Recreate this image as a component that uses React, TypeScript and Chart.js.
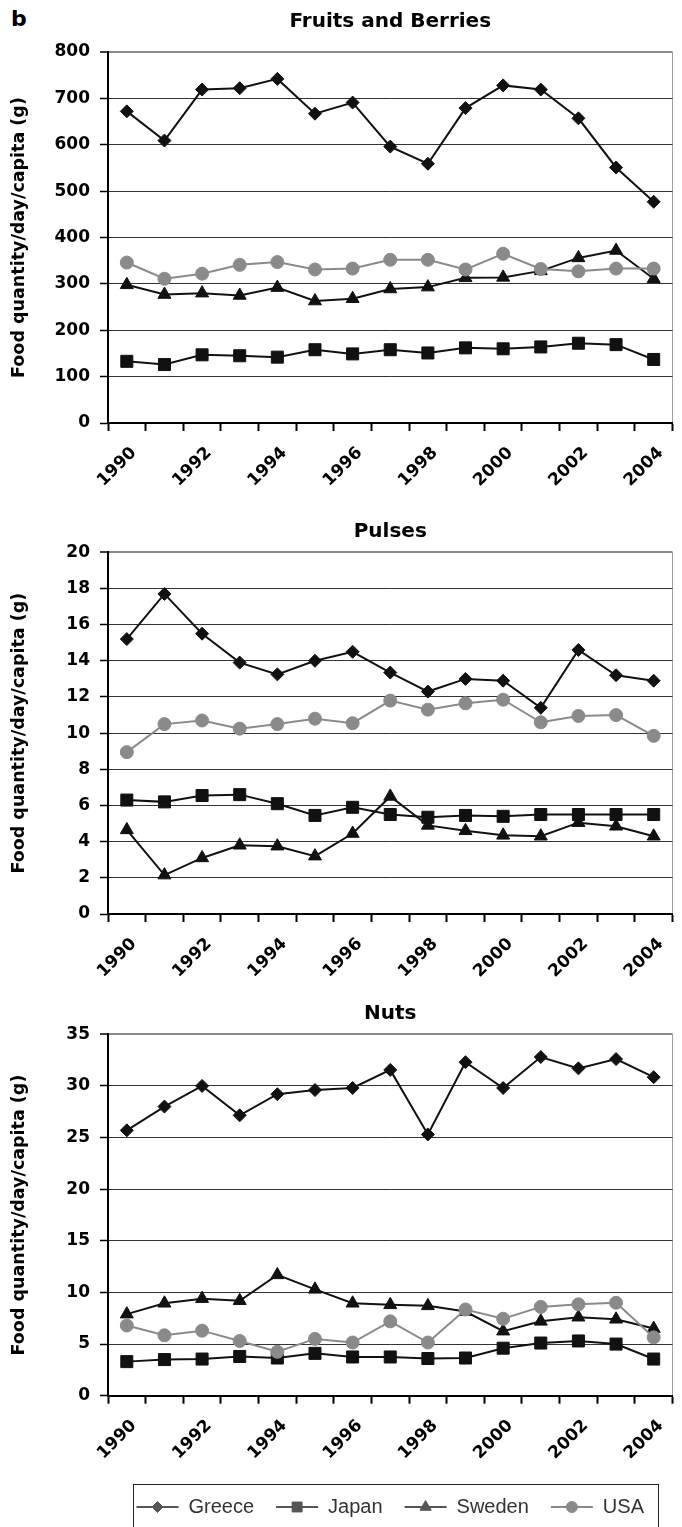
import React, { useEffect, useRef } from 'react';
import { Chart, registerables } from 'chart.js';
import { drawPoint } from 'chart.js/helpers';

Chart.register(...registerables);

// ---------- data ----------
const years = ['1990', '1991', '1992', '1993', '1994', '1995', '1996', '1997', '1998', '1999', '2000', '2001', '2002', '2003', '2004'];
const countries = ['Greece', 'Japan', 'Sweden', 'USA'];
const yAxisTitle = 'Food quantity/day/capita (g)';

const fruitsGreece = [672, 609, 719, 722, 742, 667, 691, 596, 559, 679, 728, 719, 657, 551, 477];
const fruitsJapan = [133, 126, 147, 145, 142, 158, 149, 158, 151, 162, 160, 164, 172, 169, 137];
const fruitsSweden = [298, 277, 280, 275, 292, 263, 268, 289, 293, 313, 314, 328, 356, 372, 311];
const fruitsUSA = [346, 311, 322, 341, 347, 331, 333, 352, 352, 331, 365, 332, 327, 333, 333];

const pulsesGreece = [15.2, 17.7, 15.5, 13.9, 13.25, 14.0, 14.5, 13.35, 12.3, 13.0, 12.9, 11.4, 14.6, 13.2, 12.9];
const pulsesJapan = [6.3, 6.2, 6.55, 6.6, 6.1, 5.45, 5.9, 5.5, 5.35, 5.45, 5.4, 5.5, 5.5, 5.5, 5.5];
const pulsesSweden = [4.65, 2.15, 3.1, 3.8, 3.75, 3.2, 4.45, 6.5, 4.9, 4.6, 4.35, 4.3, 5.05, 4.85, 4.3];
const pulsesUSA = [8.95, 10.5, 10.7, 10.25, 10.5, 10.8, 10.55, 11.8, 11.3, 11.65, 11.85, 10.6, 10.95, 11.0, 9.85];

const nutsGreece = [25.7, 28.0, 30.0, 27.15, 29.2, 29.6, 29.8, 31.55, 25.3, 32.3, 29.8, 32.8, 31.7, 32.6, 30.85];
const nutsJapan = [3.3, 3.5, 3.55, 3.8, 3.65, 4.1, 3.75, 3.75, 3.6, 3.65, 4.6, 5.1, 5.3, 5.0, 3.55];
const nutsSweden = [7.9, 8.95, 9.4, 9.2, 11.7, 10.3, 8.95, 8.8, 8.7, 8.15, 6.25, 7.2, 7.6, 7.4, 6.5];
const nutsUSA = [6.8, 5.85, 6.3, 5.3, 4.25, 5.5, 5.15, 7.2, 5.15, 8.35, 7.45, 8.6, 8.85, 9.0, 5.65];

// ---------- styles ----------
const FF = "'DejaVu Sans', sans-serif";
const LEGEND_FF = "'Liberation Sans', Arial, sans-serif";
const seriesStyles = [
  { color: '#111111', legendColor: '#555555', pointStyle: 'rectRot', radius: 6.5, legendRadius: 5.5, order: 3 },
  { color: '#111111', legendColor: '#555555', pointStyle: 'rect', radius: 8.5, legendRadius: 7, order: 2 },
  { color: '#111111', legendColor: '#555555', pointStyle: 'triangle', radius: 7.5, legendRadius: 6.5, order: 1 },
  { color: '#8a8a8a', legendColor: '#8a8a8a', pointStyle: 'circle', radius: 6.5, legendRadius: 5.5, order: 0 },
];

const refPlugin = {
  id: 'refLayout',
  afterLayout(chart: any) {
    const a = chart.chartArea;
    if (chart.titleBlock) {
      chart.titleBlock.left = a.left;
      chart.titleBlock.right = a.right;
    }
    if (chart.legend && chart.options.plugins.legend.display) {
      chart.legend.left = a.left;
      chart.legend.right = a.right;
    }
  },
  afterDraw(chart: any, _args: any, opts: any) {
    const lg = chart.legend;
    if (!opts || !opts.legendBox || !lg || !lg.legendHitBoxes) return;
    const ctx = chart.ctx;
    ctx.save();
    ctx.strokeStyle = '#222';
    ctx.lineWidth = 1;
    const b = opts.legendBox;
    ctx.strokeRect(b.x + 0.5, b.y + 0.5, b.w, b.h);
    const bw = chart.options.plugins.legend.labels.boxWidth;
    lg.legendHitBoxes.forEach((hb: any, i: number) => {
      const st = seriesStyles[i];
      ctx.fillStyle = st.legendColor;
      ctx.strokeStyle = st.legendColor;
      ctx.lineWidth = 1;
      drawPoint(ctx, { pointStyle: st.pointStyle, radius: st.legendRadius, rotation: 0, borderWidth: 1 } as any, hb.left + bw / 2, hb.top + hb.height / 2);
    });
    ctx.restore();
  },
};

type Props = {
  title: string;
  series: number[][];
  yMax: number;
  yStep: number;
  top: number;
  height: number;
  titlePad: { top: number; bottom: number };
  xAxisHeight: number;
  legend?: boolean;
};

function LineChart(p: Props) {
  const ref = useRef<HTMLCanvasElement>(null);
  useEffect(() => {
    const tickFont = { family: FF, size: 17, weight: 'bold' as const };
    const chart = new Chart(ref.current as HTMLCanvasElement, {
      type: 'line',
      data: {
        labels: years,
        datasets: countries.map((name, k) => ({
          label: name,
          data: p.series[k],
          borderColor: seriesStyles[k].color,
          backgroundColor: seriesStyles[k].color,
          pointBackgroundColor: seriesStyles[k].color,
          pointBorderColor: seriesStyles[k].color,
          pointStyle: seriesStyles[k].pointStyle as any,
          pointRadius: seriesStyles[k].radius,
          pointBorderWidth: 1,
          borderWidth: 2,
          tension: 0,
          order: seriesStyles[k].order,
          clip: false as any,
        })),
      },
      options: {
        animation: false,
        responsive: false,
        events: [],
        layout: { padding: { left: 0, right: 1, top: 0, bottom: 0 } },
        plugins: {
          title: {
            display: true,
            text: p.title,
            color: '#000',
            font: { family: FF, size: 20, weight: 'bold' },
            padding: p.titlePad,
          },
          legend: p.legend
            ? {
                display: true,
                position: 'bottom',
                labels: {
                  boxWidth: 42,
                  boxHeight: 2,
                  padding: 22,
                  color: '#333',
                  font: { family: LEGEND_FF, size: 20 },
                  generateLabels: (chart: any) =>
                    chart.data.datasets.map((ds: any, i: number) => ({
                      text: ds.label,
                      fillStyle: seriesStyles[i].legendColor,
                      strokeStyle: seriesStyles[i].legendColor,
                      lineWidth: 0,
                      hidden: false,
                      datasetIndex: i,
                      fontColor: '#333',
                    })),
                },
              }
            : { display: false },
          tooltip: { enabled: false },
          refLayout: p.legend ? { legendBox: { x: 133, y: 500, w: 525, h: 80 } } : {},
        } as any,
        scales: {
          x: {
            type: 'category',
            offset: true,
            grid: {
              offset: true,
              drawOnChartArea: true,
              color: (c: any) => (c.index === undefined ? '#a0a0a0' : 'rgba(0,0,0,0)'),
              lineWidth: 1,
              tickColor: '#000',
              tickLength: 8,
              tickWidth: 2,
            },
            border: { display: true, color: '#000', width: 2 },
            ticks: {
              autoSkip: false,
              maxRotation: 45,
              minRotation: 45,
              padding: 12,
              labelOffset: 7,
              color: '#000',
              font: tickFont,
              callback: (_v: any, i: number) => (i % 2 === 0 ? years[i] : ''),
            },
            afterFit: (s: any) => {
              s.height = p.xAxisHeight;
              s.paddingLeft = 0;
              s.paddingRight = 0;
            },
          },
          y: {
            min: 0,
            max: p.yMax,
            ticks: { stepSize: p.yStep, padding: 10, color: '#000', font: tickFont },
            grid: {
              color: (c: any) => (c.tick && c.tick.value === p.yMax ? '#8a8a8a' : '#333'),
              lineWidth: (c: any) => (c.tick && c.tick.value === p.yMax ? 2 : 1),
              tickColor: '#000',
              tickLength: 8,
              tickWidth: 1.5,
            },
            border: { color: '#000', width: 2 },
            title: {
              display: true,
              text: yAxisTitle,
              color: '#000',
              font: { family: FF, size: 17.5, weight: 'bold' },
              padding: { top: 9, bottom: 0 },
            },
            afterFit: (s: any) => {
              s.width = 108;
            },
          },
        } as any,
      },
      plugins: [refPlugin],
    });
    return () => chart.destroy();
  }, []);
  return (
    <div style={{ position: 'absolute', left: 0, top: p.top, width: 682, height: p.height }}>
      <canvas ref={ref} width={682} height={p.height} style={{ display: 'block' }} />
    </div>
  );
}

export default function App() {
  return (
    <div style={{ position: 'absolute', left: 0, top: 0, width: 682, height: 1527, overflow: 'hidden', background: '#fff' }}>
      <div style={{ position: 'absolute', left: 11, top: 8, fontFamily: FF, fontWeight: 'bold', fontSize: 22, lineHeight: '22px', color: '#000' }}>b</div>
      <LineChart
        title="Fruits and Berries"
        series={[fruitsGreece, fruitsJapan, fruitsSweden, fruitsUSA]}
        yMax={800}
        yStep={100}
        top={0}
        height={493}
        titlePad={{ top: 10, bottom: 18 }}
        xAxisHeight={70}
      />
      <LineChart
        title="Pulses"
        series={[pulsesGreece, pulsesJapan, pulsesSweden, pulsesUSA]}
        yMax={20}
        yStep={2}
        top={493}
        height={491}
        titlePad={{ top: 26.7, bottom: 8.6 }}
        xAxisHeight={70}
      />
      <LineChart
        title="Nuts"
        series={[nutsGreece, nutsJapan, nutsSweden, nutsUSA]}
        yMax={35}
        yStep={5}
        top={984}
        height={543}
        titlePad={{ top: 17.5, bottom: 8.8 }}
        xAxisHeight={79.3}
        legend
      />
    </div>
  );
}
